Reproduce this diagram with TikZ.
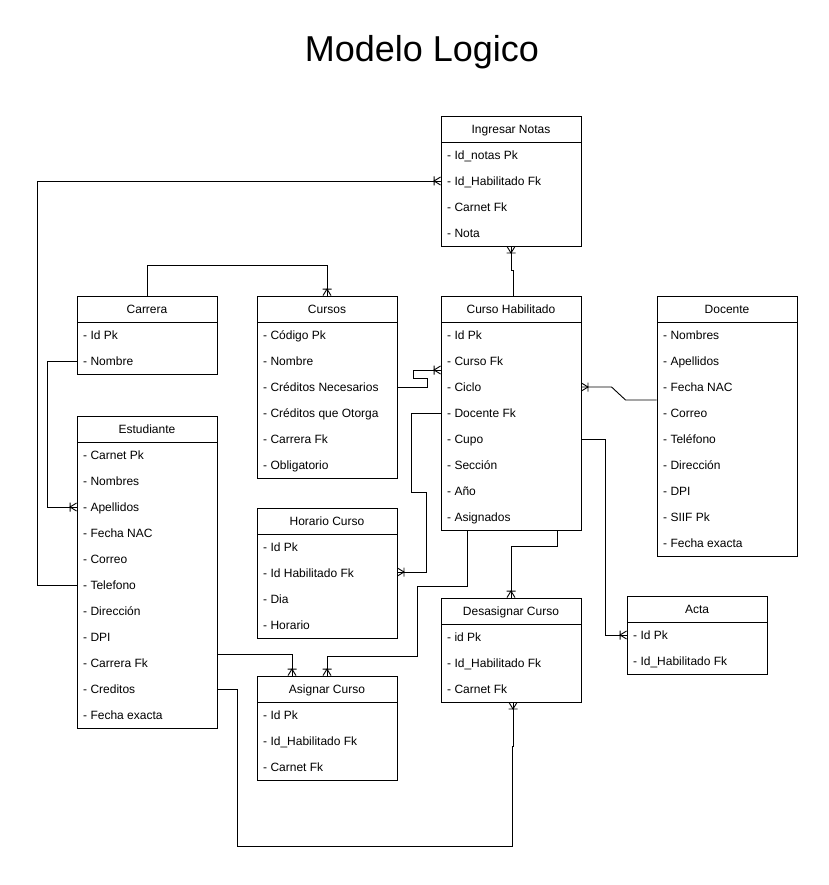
\documentclass[tikz,border=0pt]{standalone}
\usepackage{fontspec}
\setmainfont{Liberation Sans}
\usetikzlibrary{calc}

% one-or-many end: crow's foot touching the entity, bar across at its apex
\pgfdeclarearrow{
  name = OneMany,
  setup code = {
    \pgfarrowssettipend{0pt}
    \pgfarrowssetlineend{0pt}
    \pgfarrowssetbackend{-7pt}
    \pgfarrowsupperhullpoint{0pt}{4.5pt}
    \pgfarrowsupperhullpoint{-7pt}{4.5pt}
  },
  drawing code = {
    \pgfsetdash{}{0pt}
    \pgfpathmoveto{\pgfpoint{0pt}{4pt}}
    \pgfpathlineto{\pgfpoint{-6.5pt}{0pt}}
    \pgfpathlineto{\pgfpoint{0pt}{-4pt}}
    \pgfpathmoveto{\pgfpoint{-6.5pt}{4.5pt}}
    \pgfpathlineto{\pgfpoint{-6.5pt}{-4.5pt}}
    \pgfusepathqstroke
  }
}

\tikzset{
  tblbox/.style={draw, line width=0.9pt, minimum width=140pt, inner sep=0pt},
  tblhead/.style={anchor=base, inner sep=0pt, font=\fontsize{12}{14}\selectfont},
  tblrow/.style={anchor=base west, inner sep=0pt, font=\fontsize{12}{14}\selectfont},
  rel/.style={draw, line width=0.9pt, -OneMany},
}

% entity table: name, left x, top y, number of rows, title, rows
\newcommand\ertable[6]{%
  \pgfmathsetmacro\tblh{26*(#4+1)}%
  \node[tblbox, minimum height=\tblh pt] (#1) at (#2+70, #3+\tblh/2) {};
  \node[tblhead] (#1-h) at (#2+70, #3+17.3) {#5};
  \draw[line width=0.9pt] (#2, #3+26) -- (#2+140, #3+26);
  \foreach \rowtext [count=\i] in {#6} {
    \node[tblrow] (#1-\i) at (#2+6, #3+17.3+26*\i) {\rowtext};
  }
}

\begin{document}
\begin{tikzpicture}[x=1pt, y=-1pt]
\useasboundingbox (0,0) rectangle (828,885);
\fill[white] (0,0) rectangle (828,885);

\node (title) at (422,52) {\fontsize{36}{42}\selectfont Modelo Logico};

\ertable{notas}{441}{116}{4}{Ingresar Notas}{- Id\_notas Pk, - Id\_Habilitado Fk, - Carnet Fk, - Nota}
\ertable{carrera}{77}{296}{2}{Carrera}{- Id Pk, - Nombre}
\ertable{cursos}{257}{296}{6}{Cursos}{- Código Pk, - Nombre, - Créditos Necesarios, - Créditos que Otorga, - Carrera Fk, - Obligatorio}
\ertable{ch}{441}{296}{8}{Curso Habilitado}{- Id Pk, - Curso Fk, - Ciclo, - Docente Fk, - Cupo, - Sección, - Año, - Asignados}
\ertable{doc}{657}{296}{9}{Docente}{- Nombres, - Apellidos, - Fecha NAC, - Correo, - Teléfono, - Dirección, - DPI, - SIIF Pk, - Fecha exacta}
\ertable{est}{77}{416}{11}{Estudiante}{- Carnet Pk, - Nombres, - Apellidos, - Fecha NAC, - Correo, - Telefono, - Dirección, - DPI, - Carrera Fk, - Creditos, - Fecha exacta}
\ertable{hor}{257}{508}{4}{Horario Curso}{- Id Pk, - Id Habilitado Fk, - Dia, - Horario}
\ertable{desa}{441}{598}{3}{Desasignar Curso}{- id Pk, - Id\_Habilitado Fk, - Carnet Fk}
\ertable{acta}{627}{596}{2}{Acta}{- Id Pk, - Id\_Habilitado Fk}
\ertable{asig}{257}{676}{3}{Asignar Curso}{- Id Pk, - Id\_Habilitado Fk, - Carnet Fk}

% relations (row nodes sit on their baseline, so row centres are 4.3 above)
\draw[rel] (carrera.north) -- ++(0,-30) -| (cursos.north);
\draw[rel] ($(ch.north)+(2,0)$) |- ($(notas.south)+(0,24)$) -- (notas.south);
\draw[rel] ($(est.west |- est-6.base)+(0,-4.3)$) -- ++(-39,0) |- ($(notas.west |- notas-2.base)+(0,-4.3)$);
\draw[rel] ($(carrera.west |- carrera-2.base)+(0,-4.3)$) -- ++(-29,0) |- ($(est.west |- est-3.base)+(0,-4.3)$);
\draw[rel] ($(cursos.east |- cursos-3.base)+(0,-4.3)$) -- ++(30,0) -- ++(0,-9) -- ++(-14,0)
  |- ($(ch.west |- ch-2.base)+(0,4.7)$);
\draw[rel] ($(doc.west |- doc-3.base)+(0,8.7)$) -- ++(-31,0) -- ++(-14,-13) -- ($(ch.east |- ch-3.base)+(0,-4.3)$);
\draw[rel] ($(ch.west |- ch-4.base)+(0,-4.3)$) -- ++(-29,0) -- ++(0,79) -- ++(15,0) |- ($(hor.east |- hor-2.base)+(0,-5.3)$);
\draw[rel] ($(ch.east |- ch-5.base)+(0,-4.3)$) -- ++(24,0) |- ($(acta.west |- acta-1.base)+(0,-4.3)$);
\draw[rel] ($(ch.south)+(-44,0)$) -- ++(0,56) -- ++(-50,0) -- ++(0,70) -| (asig.north);
\draw[rel] ($(ch.south)+(46,0)$) -- ++(0,16) -| (desa.north);
\draw[rel] ($(est.east |- est-9.base)+(0,-13.3)$) -| ($(asig.north)+(-35,0)$);
\draw[rel] ($(est.east |- est-10.base)+(0,-4.3)$) -- ++(20,0) -- ++(0,157) -| ($(desa.south)+(1,44)$)
  -- ++(1,0) -- ($(desa.south)+(2,0)$);
\end{tikzpicture}
\end{document}
